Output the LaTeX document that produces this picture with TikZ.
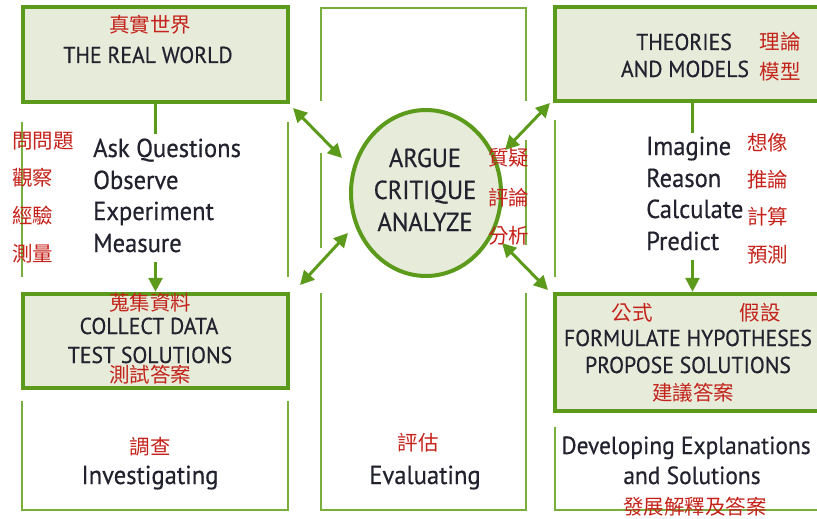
\documentclass[tikz,border=0pt]{standalone}
\usepackage{fontspec}
\setmainfont{PT Sans}[FakeStretch=0.945, FakeBold=0.5]
\newfontfamily\cjk{Noto Sans CJK TC}
\usetikzlibrary{arrows.meta,shapes.geometric}
\definecolor{gdark}{HTML}{5C9A1B}
\definecolor{glight}{HTML}{7AAE3C}
\definecolor{gfill}{HTML}{E6EBDA}
\definecolor{zhred}{HTML}{C4221A}
\definecolor{ink}{HTML}{22222F}
\tikzset{
  panel/.style={draw=gdark, line width=4.5pt, fill=gfill, inner sep=0pt},
  hub/.style={ellipse, draw=gdark, line width=4pt, fill=gfill, inner sep=0pt,
    minimum width=150pt, minimum height=166pt},
  frame/.style={draw=glight, line width=1.5pt},
  link/.style={draw=gdark, line width=3pt},
  flow/.style={link, -{Triangle[length=14pt,width=14pt]}},
  twoway/.style={link, {Triangle[length=14pt,width=14pt]}-{Triangle[length=14pt,width=14pt]}},
  captxt/.style={inner sep=0pt, anchor=base, text=ink, font=\fontsize{23}{26}\selectfont},
  bigtxt/.style={inner sep=0pt, anchor=base, text=ink, font=\fontsize{26}{30}\selectfont},
  midtxt/.style={bigtxt, font=\fontsize{24.8}{29}\selectfont},
  zh/.style={inner sep=0pt, text=zhred, font=\cjk\fontsize{20.5}{24}\selectfont},
}
\begin{document}
\begin{tikzpicture}[x=1pt,y=-1pt]
\useasboundingbox (0,0) rectangle (817,519);
\clip (0,0) rectangle (817,519);

% thin column frames
\draw[frame] (22,122) -- (22,277);
\draw[frame] (288,122) -- (288,277);
\draw[frame] (22,401) -- (22,510) -- (288,510) -- (288,401);
\draw[frame] (321,101) -- (321,8) -- (526,8) -- (526,101);
\draw[frame] (321,153) -- (321,248);
\draw[frame] (526,140) -- (526,245);
\draw[frame] (321,293) -- (321,510) -- (526,510) -- (526,293);
\draw[frame] (555,120) -- (555,277);
\draw[frame] (555,427) -- (555,510) -- (830,510);

% the four panels and the hub
\node[panel, minimum width=265pt, minimum height=95pt] (real) at (155.5,54.5) {};
\node[panel, minimum width=265pt, minimum height=94pt] (collect) at (155.5,341) {};
\node[panel, minimum width=275pt, minimum height=94pt] (theory) at (692.5,54) {};
\node[panel, minimum width=275pt, minimum height=117pt] (formulate) at (692.5,352.5) {};
\node[hub] (hub) at (426,193) {};

% flow inside the side columns
\coordinate (realdrop) at (155.5,134);
\coordinate (measfoot) at (155.5,262);
\coordinate (theorydrop) at (692.5,133);
\coordinate (predfoot) at (692.5,260);
\draw[link] (real.south) -- (realdrop);
\draw[flow] (measfoot) -- (collect.north);
\draw[link] (theory.south) -- (theorydrop);
\draw[flow] (predfoot) -- (formulate.north);

% exchanges with the hub
\coordinate (nwA) at (293,108);  \coordinate (nwB) at (342,158);
\coordinate (swA) at (348,233);  \coordinate (swB) at (300,285);
\coordinate (neA) at (505,150);  \coordinate (neB) at (550,103);
\coordinate (seA) at (502,243);  \coordinate (seB) at (548,290);
\draw[twoway] (nwA) -- (nwB);
\draw[twoway] (swA) -- (swB);
\draw[twoway] (neA) -- (neB);
\draw[twoway] (seA) -- (seB);

% left column text
\node[zh] (realzh) at (150,25) {真實世界};
\node[captxt] (realen) at (148,63) {THE REAL WORLD};
\node[bigtxt, anchor=base west] (ask) at (93,157) {Ask Questions};
\node[bigtxt, anchor=base west] (obs) at (93,189) {Observe};
\node[bigtxt, anchor=base west] (exp) at (93,220) {Experiment};
\node[bigtxt, anchor=base west] (mea) at (93,252) {Measure};
\node[zh, anchor=west] (askzh) at (12,141) {問問題};
\node[zh, anchor=west] (obszh) at (12,178) {觀察};
\node[zh, anchor=west] (expzh) at (12,216) {經驗};
\node[zh, anchor=west] (meazh) at (12,254) {測量};
\node[zh] (colzh) at (150,303) {蒐集資料};
\node[captxt] (colen) at (149,334) {COLLECT DATA};
\node[captxt] (testen) at (150,363) {TEST SOLUTIONS};
\node[zh] (testzh) at (150,375) {測試答案};
\node[zh] (invzh) at (150,447) {調查};
\node[bigtxt] (inven) at (150,484) {Investigating};

% centre column text
\node[bigtxt] (argue) at (425,167) {ARGUE};
\node[bigtxt] (critique) at (425,199) {CRITIQUE};
\node[bigtxt] (analyze) at (425,231) {ANALYZE};
\node[zh, anchor=west] (arguezh) at (488,158) {質疑};
\node[zh, anchor=west] (critzh) at (488,198) {評論};
\node[zh, anchor=west] (anazh) at (488,236) {分析};
\node[zh] (evalzh) at (418,443) {評估};
\node[bigtxt] (evalen) at (425,484) {Evaluating};

% right column text
\node[captxt] (theoen) at (684,50) {THEORIES};
\node[captxt] (modelen) at (685,77) {AND MODELS};
\node[zh] (theozh) at (780,42) {理論};
\node[zh] (modelzh) at (780,72) {模型};
\node[bigtxt, anchor=base west] (imag) at (646,155) {Imagine};
\node[bigtxt, anchor=base west] (reas) at (646,187) {Reason};
\node[bigtxt, anchor=base west] (calc) at (646,218) {Calculate};
\node[bigtxt, anchor=base west] (pred) at (646,250) {Predict};
\node[zh, anchor=west] (imagzh) at (747,143) {想像};
\node[zh, anchor=west] (reaszh) at (747,180) {推論};
\node[zh, anchor=west] (calczh) at (747,217) {計算};
\node[zh, anchor=west] (predzh) at (747,255) {預測};
\node[zh] (formzh) at (632,313) {公式};
\node[zh] (hypzh) at (760,313) {假設};
\node[captxt] (formen) at (688,346) {FORMULATE HYPOTHESES};
\node[captxt] (propen) at (688,373) {PROPOSE SOLUTIONS};
\node[zh] (propzh) at (693,393) {建議答案};
\node[midtxt] (deven) at (686,454) {Developing Explanations};
\node[midtxt] (solen) at (692,484) {and Solutions};
\node[zh] (devzh) at (695,507) {發展解釋及答案};
\end{tikzpicture}
\end{document}
